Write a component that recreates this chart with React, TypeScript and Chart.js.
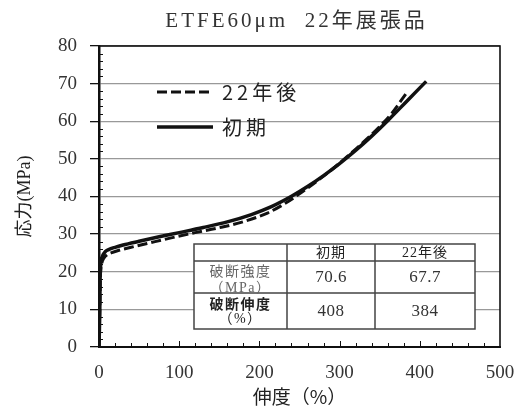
import React, { useEffect, useRef } from 'react';
import { Chart, registerables } from 'chart.js';

Chart.register(...registerables);

const titleText = 'ETFE60μm  22年展張品';
const xAxisTitle = '伸度（%）';
const yAxisTitle = '応力(MPa)';
const seriesNames = ['22年後', '初期'];

// 初期 (initial) stress-strain curve
const initialX = [0, 1, 1.4, 2, 3, 5, 8, 12, 20, 30, 50, 75, 100, 130, 160, 190, 215, 240, 260, 280, 300, 320, 340, 360, 385, 408];
const initialY = [0, 10, 18, 21.5, 23.2, 24.5, 25.4, 25.9, 26.5, 27.1, 28.1, 29.3, 30.4, 31.75, 33.25, 35.2, 37.3, 40.05, 42.65, 45.55, 48.75, 52.25, 56.05, 60.15, 65.6, 70.6];

// 22年後 (after 22 years) stress-strain curve
const agedX = [0, 1, 1.5, 2.2, 3.5, 6, 10, 15, 25, 40, 60, 90, 120, 150, 180, 210, 230, 250, 270, 290, 310, 330, 350, 365, 384];
const agedY = [0, 10, 17, 20.5, 22.3, 23.6, 24.5, 25.0, 25.7, 26.5, 27.5, 29.0, 30.4, 31.7, 33.3, 35.6, 37.9, 40.7, 43.8, 47.1, 50.7, 54.5, 58.6, 62.1, 67.7];

const xMin = 0;
const xMax = 500;
const xStep = 100;
const xMinorStep = 20;
const yMin = 0;
const yMax = 80;
const yStep = 10;
const yMinorStep = 2;

const tableHeaders = ['初期', '22年後'];
const tableRowTitles = ['破断強度', '破断伸度'];
const tableRowUnits = ['（MPa）', '（%）'];
const breakStrength = [70.6, 67.7];
const breakElongation = [408, 384];

const SERIF = '"Liberation Serif", "Noto Sans CJK JP", serif';
const SANS = '"Noto Sans CJK JP", "Noto Sans", sans-serif';

const decorPlugin = {
  id: 'decor',
  afterDatasetsDraw(chart: any) {
    const { ctx, chartArea: a, scales } = chart;
    const xs = scales.x;
    const ys = scales.y;
    ctx.save();

    // minor ticks (inside)
    ctx.strokeStyle = '#111';
    ctx.lineWidth = 1;
    for (let v = yMin + yMinorStep; v < yMax; v += yMinorStep) {
      if (v % yStep === 0) continue;
      const py = Math.round(ys.getPixelForValue(v)) + 0.5;
      ctx.beginPath();
      ctx.moveTo(a.left, py);
      ctx.lineTo(a.left + 4, py);
      ctx.stroke();
    }
    for (let v = xMin + xMinorStep; v < xMax; v += xMinorStep) {
      const px = Math.round(xs.getPixelForValue(v)) + 0.5;
      ctx.beginPath();
      ctx.moveTo(px, a.bottom);
      ctx.lineTo(px, a.bottom - (v % xStep === 0 ? 6 : 4));
      ctx.stroke();
    }

    // frame
    ctx.strokeStyle = '#111';
    ctx.lineWidth = 1.6;
    ctx.strokeRect(a.left, a.top, a.right - a.left, a.bottom - a.top);

    // legend inside plot
    const legendX0 = a.left + 58;
    const legendX1 = a.left + 114;
    const legendRows = [a.top + 46, a.top + 81];
    chart.data.datasets.forEach((ds: any, i: number) => {
      const y = legendRows[i];
      ctx.save();
      ctx.strokeStyle = ds.borderColor;
      ctx.lineWidth = ds.borderWidth;
      ctx.setLineDash(ds.borderDash || []);
      ctx.beginPath();
      ctx.moveTo(legendX0, y);
      ctx.lineTo(legendX1, y);
      ctx.stroke();
      ctx.restore();
      ctx.save();
      ctx.fillStyle = '#222';
      ctx.font = `20px ${SANS}`;
      (ctx as any).letterSpacing = '4px';
      ctx.textAlign = 'left';
      ctx.textBaseline = 'middle';
      ctx.fillText(ds.label, legendX1 + 9, y);
      ctx.restore();
    });

    // table
    const L = a.left + 95;
    const C1 = a.left + 188;
    const C2 = a.left + 276;
    const R = a.left + 376;
    const T = a.top + 198;
    const R1 = a.top + 215;
    const R2 = a.top + 247;
    const B = a.top + 283;
    ctx.fillStyle = '#fff';
    ctx.fillRect(L, T, R - L, B - T);
    ctx.strokeStyle = '#444';
    ctx.lineWidth = 1.5;
    ctx.strokeRect(L, T, R - L, B - T);
    ctx.beginPath();
    ctx.moveTo(L, R1); ctx.lineTo(R, R1);
    ctx.moveTo(L, R2); ctx.lineTo(R, R2);
    ctx.moveTo(C1, T); ctx.lineTo(C1, B);
    ctx.moveTo(C2, T); ctx.lineTo(C2, B);
    ctx.stroke();

    ctx.textAlign = 'center';
    ctx.textBaseline = 'middle';
    const cols = [(C1 + C2) / 2, (C2 + R) / 2];
    ctx.fillStyle = '#222';
    ctx.font = `14px ${SERIF}`;
    (ctx as any).letterSpacing = '1px';
    tableHeaders.forEach((h, i) => ctx.fillText(h, cols[i], (T + R1) / 2 + 1));

    const labelX = (L + C1) / 2;
    // row 1
    ctx.fillStyle = '#666';
    ctx.font = `14px ${SERIF}`;
    (ctx as any).letterSpacing = '1.5px';
    ctx.fillText(tableRowTitles[0], labelX, R1 + 11);
    ctx.fillText(tableRowUnits[0], labelX, R1 + 27);
    // row 2
    ctx.fillStyle = '#222';
    ctx.font = `bold 14px ${SANS}`;
    ctx.fillText(tableRowTitles[1], labelX, R2 + 11);
    ctx.font = `14px ${SERIF}`;
    ctx.fillText(tableRowUnits[1], labelX, R2 + 26);

    ctx.fillStyle = '#333';
    ctx.font = `17px ${SERIF}`;
    (ctx as any).letterSpacing = '0.5px';
    breakStrength.forEach((v, i) => ctx.fillText(v.toFixed(1), cols[i], (R1 + R2) / 2 + 1));
    breakElongation.forEach((v, i) => ctx.fillText(String(v), cols[i], (R2 + B) / 2 + 1));

    ctx.restore();
  },
  afterDraw(chart: any) {
    const { ctx, chartArea: a } = chart;
    ctx.save();
    ctx.fillStyle = '#333';
    ctx.font = `21px ${SERIF}`;
    (ctx as any).letterSpacing = '3px';
    ctx.textAlign = 'center';
    ctx.textBaseline = 'middle';
    ctx.fillText(titleText, (a.left + a.right) / 2 - 3, 21);
    ctx.restore();
  },
};

export default function App() {
  const ref = useRef<HTMLCanvasElement | null>(null);

  useEffect(() => {
    document.body.style.margin = '0';
    const canvas = ref.current;
    if (!canvas) return;
    const chart = new Chart(canvas, {
      type: 'line',
      data: {
        datasets: [
          {
            label: seriesNames[0],
            data: agedX.map((x, i) => ({ x, y: agedY[i] })),
            borderColor: '#111',
            borderWidth: 3,
            borderDash: [10, 4],
            pointRadius: 0,
            fill: false,
            cubicInterpolationMode: 'monotone',
          },
          {
            label: seriesNames[1],
            data: initialX.map((x, i) => ({ x, y: initialY[i] })),
            borderColor: '#111',
            borderWidth: 3.5,
            pointRadius: 0,
            fill: false,
            cubicInterpolationMode: 'monotone',
          },
        ],
      },
      options: {
        animation: false,
        responsive: false,
        devicePixelRatio: 1,
        layout: { padding: { left: 0, right: 18, top: 46, bottom: 0 } },
        plugins: {
          legend: { display: false },
          tooltip: { enabled: false },
          title: { display: false },
        },
        scales: {
          x: {
            type: 'linear',
            min: xMin,
            max: xMax,
            ticks: {
              stepSize: xStep,
              padding: 15,
              color: '#333',
              font: { family: SERIF, size: 19 },
              maxRotation: 0,
            },
            grid: { display: false, drawTicks: false },
            border: { display: true, color: '#111', width: 2 },
            title: {
              display: true,
              text: xAxisTitle,
              color: '#222',
              font: { family: SANS, size: 19, lineHeight: 1 },
              padding: { top: 0, bottom: 0 },
            },
            afterFit(scale: any) {
              scale.height = 59;
              scale.paddingLeft = 0;
              scale.paddingRight = 0;
            },
          },
          y: {
            type: 'linear',
            min: yMin,
            max: yMax,
            ticks: {
              stepSize: yStep,
              padding: 13,
              color: '#333',
              font: { family: SERIF, size: 19 },
            },
            grid: {
              color: '#999',
              lineWidth: 1.3,
              tickColor: '#111',
              tickLength: 9,
              tickWidth: 1.3,
            },
            border: { display: true, color: '#111', width: 2.5 },
            title: {
              display: true,
              text: yAxisTitle,
              color: '#222',
              font: { family: SERIF, size: 18, lineHeight: 1 },
              padding: { top: 16, bottom: 0 },
            },
            afterFit(scale: any) {
              scale.width = 99;
              scale.paddingTop = 0;
              scale.paddingBottom = 0;
            },
          },
        },
      } as any,
      plugins: [decorPlugin],
    });
    return () => chart.destroy();
  }, []);

  return (
    <div style={{ position: 'fixed', left: 0, top: 0, width: 518, height: 406, background: '#fff' }}>
      <canvas ref={ref} width={518} height={406} />
    </div>
  );
}
